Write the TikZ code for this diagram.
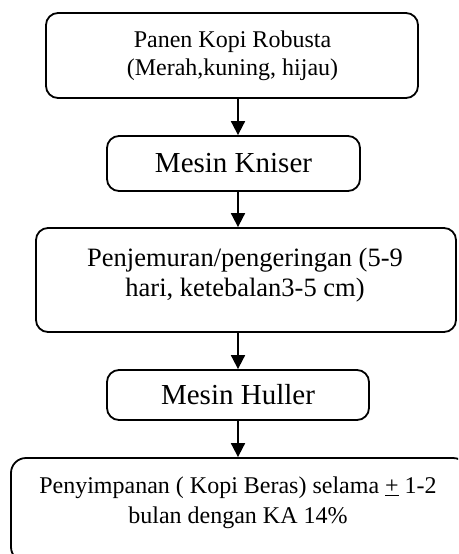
\documentclass[tikz,border=0pt]{standalone}
\usepackage{fontspec}
\setmainfont{Liberation Serif}
\usetikzlibrary{arrows.meta}
\begin{document}
\begin{tikzpicture}[x=1pt,y=-1pt,
  boxstyle/.style={draw, line width=1.8pt, rounded corners=12pt, inner sep=0pt, align=center},
  txt/.style={inner sep=0pt, align=center},
  arr/.style={line width=1.8pt, -{Triangle[width=14pt,length=14pt]}}]
\clip (0,0) rectangle (458,554);
\fill[white] (0,0) rectangle (458,554);
\coordinate (ax) at (238,0);
% box 1
\node[boxstyle, minimum width=372pt, minimum height=85pt] (b1) at (232,55.5) {};
\node[txt, font=\fontsize{24}{28}\selectfont] (t1) at (232.5,56) {Panen Kopi Robusta\\(Merah,kuning, hijau)};
% box 2
\node[boxstyle, minimum width=253pt, minimum height=55pt, font=\fontsize{29}{33}\selectfont] (b2) at (233.5,163.5) {Mesin Kniser};
% box 3
\node[boxstyle, minimum width=420pt, minimum height=104pt] (b3) at (246,280) {};
\node[txt, font=\fontsize{26.5}{30}\selectfont] (t3) at (245,275) {Penjemuran/pengeringan (5-9\\hari, ketebalan3-5 cm)};
% box 4
\node[boxstyle, minimum width=262pt, minimum height=50pt, font=\fontsize{29}{33}\selectfont] (b4) at (238,395) {Mesin Huller};
% box 5
\node[boxstyle, rounded corners=15pt, minimum width=457pt, minimum height=104pt] (b5) at (239.5,510) {};
\node[txt, font=\fontsize{24}{30}\selectfont] (t5) at (238,503) {Penyimpanan ( Kopi Beras) selama \underline{+} 1-2\\bulan dengan KA 14\%};
% arrows
\draw[arr] (b1.south -| ax) -- (b2.north -| ax);
\draw[arr] (b2.south -| ax) -- (b3.north -| ax);
\draw[arr] (b3.south -| ax) -- (b4.north -| ax);
\draw[arr] (b4.south -| ax) -- (b5.north -| ax);
\end{tikzpicture}
\end{document}
